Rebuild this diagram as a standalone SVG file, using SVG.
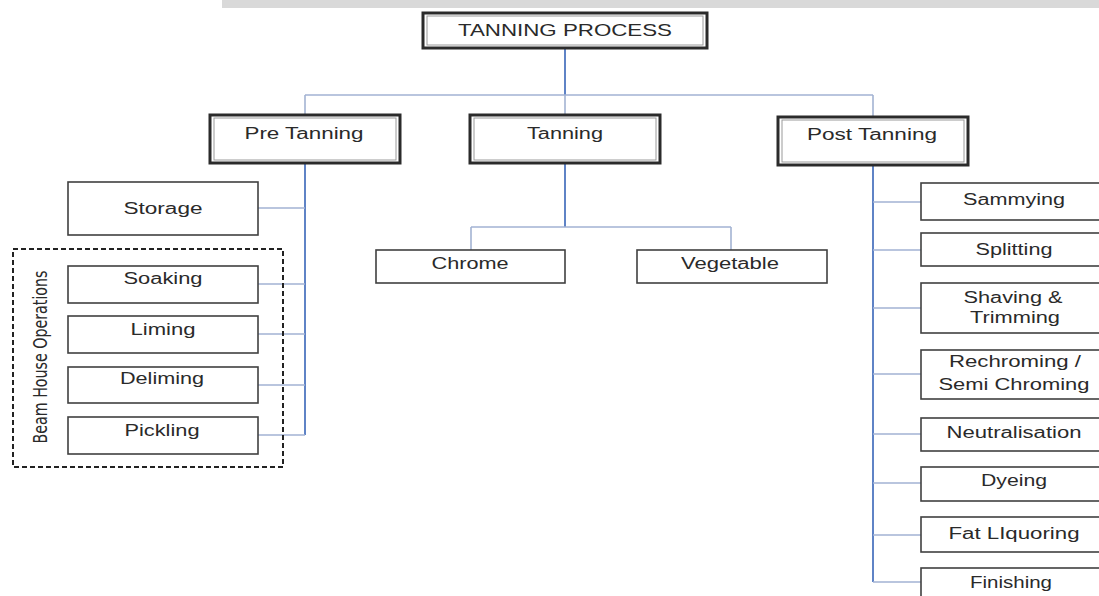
<svg xmlns="http://www.w3.org/2000/svg" width="1099" height="596" viewBox="0 0 1099 596">
<defs>
<style>
.bg{fill:#ffffff}
.band{fill:#d9d9d9}
.main{fill:#ffffff;stroke:#2b2b2b;stroke-width:3}
.inner{fill:none;stroke:#9a9a9a;stroke-width:1}
.sub{fill:#ffffff;stroke:#404040;stroke-width:1.6}
.trunk{fill:none;stroke:#5f83c6;stroke-width:2}
.branch{fill:none;stroke:#a3b3d3;stroke-width:1.6}
.dash{fill:none;stroke:#222222;stroke-width:2;stroke-dasharray:5 3}
text{font-family:"Liberation Sans",Arial,sans-serif;fill:#2a2a2a;text-anchor:middle}
.t1{font-size:17px}
.t2{font-size:16px}
.t3{font-size:16px}
.narrow{font-family:"Liberation Sans Narrow","DejaVu Sans Condensed","Liberation Sans",sans-serif;font-size:20px}
</style>
</defs>
<rect class="bg" x="0" y="0" width="1099" height="596"/>
<rect class="band" x="222" y="0" width="877" height="8"/>

<g id="connectors">
<path class="trunk" d="M565 48V95"/>
<path class="branch" d="M305 95H873M305 95V115M565 95V115M873 95V117"/>
<path class="trunk" d="M305 163V435"/>
<path class="branch" d="M258 208H305M258 284H305M258 334H305M258 385H305M258 435H305"/>
<path class="trunk" d="M565 163V227"/>
<path class="branch" d="M471 227H731M471 227V250M731 227V250"/>
<path class="trunk" d="M873 165V582"/>
<path class="branch" d="M873 202H921M873 250H921M873 308H921M873 374H921M873 434H921M873 483H921M873 535H921M873 582H921"/>
</g>

<g id="tanning-process">
<rect class="main" x="423" y="13" width="284" height="35"/>
<rect class="inner" x="427" y="16" width="276" height="29"/>
<text class="t1" x="565" y="36" textLength="214" lengthAdjust="spacingAndGlyphs">TANNING PROCESS</text>
</g>
<g id="pre-tanning">
<rect class="main" x="210" y="115" width="190" height="48"/>
<rect class="inner" x="214" y="118" width="182" height="42"/>
<text class="t2" x="304" y="139" textLength="119" lengthAdjust="spacingAndGlyphs">Pre Tanning</text>
</g>
<g id="tanning">
<rect class="main" x="470" y="115" width="190" height="48"/>
<rect class="inner" x="474" y="118" width="182" height="42"/>
<text class="t2" x="565" y="139" textLength="76" lengthAdjust="spacingAndGlyphs">Tanning</text>
</g>
<g id="post-tanning">
<rect class="main" x="778" y="117" width="190" height="48"/>
<rect class="inner" x="782" y="120" width="182" height="42"/>
<text class="t2" x="872" y="140" textLength="130" lengthAdjust="spacingAndGlyphs">Post Tanning</text>
</g>

<g id="beam-house">
<rect class="dash" x="13" y="249" width="270" height="218"/>
<text class="narrow" transform="translate(47 357) rotate(-90)" x="0" y="0" textLength="173" lengthAdjust="spacingAndGlyphs">Beam House Operations</text>
</g>

<g id="storage">
<rect class="sub" x="68" y="182" width="190" height="53"/>
<text class="t3" x="163" y="214" textLength="79" lengthAdjust="spacingAndGlyphs">Storage</text>
</g>
<g id="soaking">
<rect class="sub" x="68" y="266" width="190" height="37"/>
<text class="t3" x="163" y="284" textLength="79" lengthAdjust="spacingAndGlyphs">Soaking</text>
</g>
<g id="liming">
<rect class="sub" x="68" y="316" width="190" height="37"/>
<text class="t3" x="163" y="335" textLength="65" lengthAdjust="spacingAndGlyphs">Liming</text>
</g>
<g id="deliming">
<rect class="sub" x="68" y="367" width="190" height="36"/>
<text class="t3" x="162" y="384" textLength="84" lengthAdjust="spacingAndGlyphs">Deliming</text>
</g>
<g id="pickling">
<rect class="sub" x="68" y="417" width="190" height="37"/>
<text class="t3" x="162" y="436" textLength="75" lengthAdjust="spacingAndGlyphs">Pickling</text>
</g>

<g id="chrome">
<rect class="sub" x="376" y="250" width="189" height="33"/>
<text class="t3" x="470" y="269" textLength="77" lengthAdjust="spacingAndGlyphs">Chrome</text>
</g>
<g id="vegetable">
<rect class="sub" x="637" y="250" width="190" height="33"/>
<text class="t3" x="730" y="269" textLength="98" lengthAdjust="spacingAndGlyphs">Vegetable</text>
</g>

<g id="sammying">
<rect class="sub" x="921" y="183" width="186" height="37"/>
<text class="t3" x="1014" y="205" textLength="102" lengthAdjust="spacingAndGlyphs">Sammying</text>
</g>
<g id="splitting">
<rect class="sub" x="921" y="233" width="186" height="33"/>
<text class="t3" x="1014" y="255" textLength="77" lengthAdjust="spacingAndGlyphs">Splitting</text>
</g>
<g id="shaving">
<rect class="sub" x="921" y="283" width="186" height="50"/>
<text class="t3" x="1013" y="303" textLength="99" lengthAdjust="spacingAndGlyphs">Shaving &amp;</text>
<text class="t3" x="1015" y="323" textLength="90" lengthAdjust="spacingAndGlyphs">Trimming</text>
</g>
<g id="rechroming">
<rect class="sub" x="921" y="350" width="186" height="49"/>
<text class="t3" x="1015" y="367" textLength="132" lengthAdjust="spacingAndGlyphs">Rechroming /</text>
<text class="t3" x="1014" y="390" textLength="151" lengthAdjust="spacingAndGlyphs">Semi Chroming</text>
</g>
<g id="neutralisation">
<rect class="sub" x="921" y="418" width="186" height="33"/>
<text class="t3" x="1014" y="438" textLength="135" lengthAdjust="spacingAndGlyphs">Neutralisation</text>
</g>
<g id="dyeing">
<rect class="sub" x="921" y="467" width="186" height="34"/>
<text class="t3" x="1014" y="486" textLength="66" lengthAdjust="spacingAndGlyphs">Dyeing</text>
</g>
<g id="fat-liquoring">
<rect class="sub" x="921" y="517" width="186" height="35"/>
<text class="t3" x="1014" y="539" textLength="131" lengthAdjust="spacingAndGlyphs">Fat LIquoring</text>
</g>
<g id="finishing">
<rect class="sub" x="921" y="568" width="186" height="40"/>
<text class="t3" x="1011" y="588" textLength="82" lengthAdjust="spacingAndGlyphs">Finishing</text>
</g>
</svg>
